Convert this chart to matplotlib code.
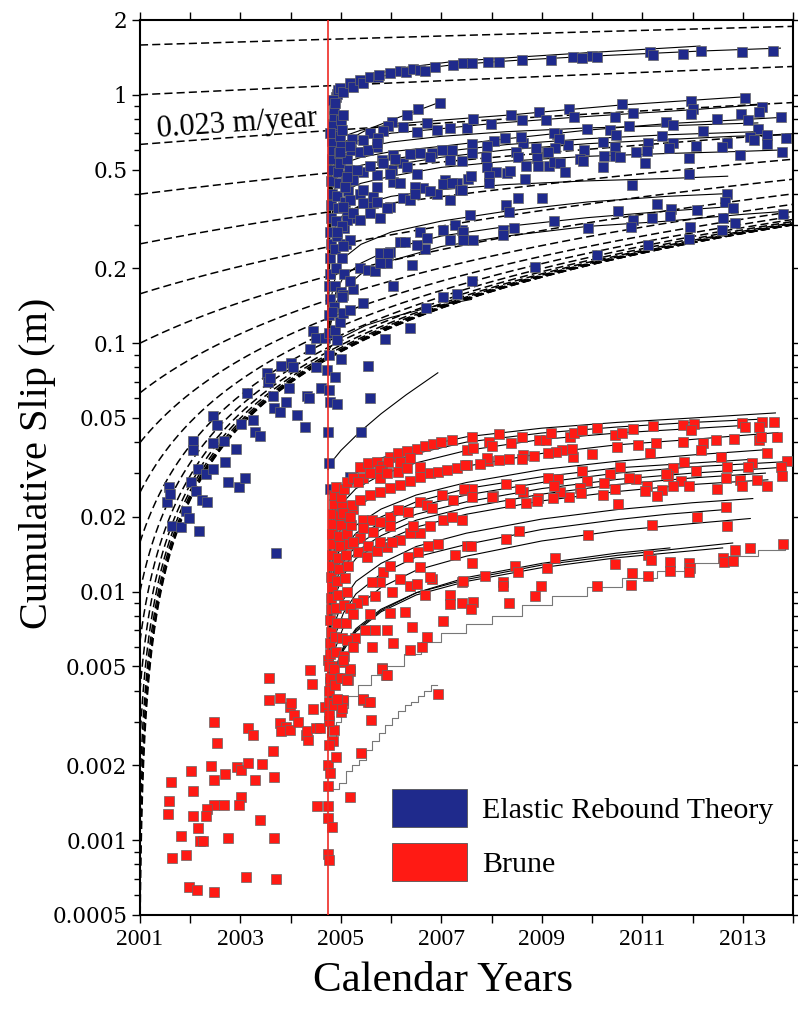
import numpy as np
import matplotlib
matplotlib.use('Agg')
import matplotlib.pyplot as plt
from matplotlib.patches import Patch
from matplotlib.ticker import LogLocator

# --- data (year, cumulative slip in m) ---
quake_year = 2004.74
slip_rate = 0.023
rate_offsets = [1.585, 1.0, 0.631, 0.398, 0.251, 0.158, 0.1, 0.0631, 0.0398, 0.0251,
                0.0158, 0.01, 0.00631, 0.00398, 0.00251, 0.00158, 0.001, 0.00063, 0.0004]

blue_pre = [
    [2001.54, 0.0230], [2001.58, 0.0264], [2001.60, 0.0248], [2001.64, 0.0184], [2001.82, 0.0182],
    [2001.92, 0.0211], [2001.98, 0.0198], [2002.02, 0.0277], [2002.06, 0.0404], [2002.06, 0.0372],
    [2002.11, 0.0254], [2002.15, 0.0312], [2002.17, 0.0176], [2002.23, 0.0234], [2002.31, 0.0298],
    [2002.33, 0.0230], [2002.45, 0.0510], [2002.45, 0.0397], [2002.45, 0.0312], [2002.53, 0.0469],
    [2002.67, 0.0404], [2002.69, 0.0333], [2002.75, 0.0277], [2002.91, 0.0375], [2002.97, 0.0264],
    [2003.01, 0.0473], [2003.09, 0.0287], [2003.13, 0.0631], [2003.25, 0.0491], [2003.29, 0.0440],
    [2003.39, 0.0424], [2003.53, 0.0759], [2003.55, 0.0699], [2003.59, 0.0725], [2003.65, 0.0614],
    [2003.67, 0.0549], [2003.71, 0.0143], [2003.79, 0.0529], [2003.81, 0.0811], [2003.91, 0.0581],
    [2003.97, 0.0661], [2004.01, 0.0833], [2004.05, 0.0802], [2004.13, 0.0515], [2004.28, 0.0460],
    [2004.32, 0.0614], [2004.36, 0.0603], [2004.38, 0.0948], [2004.44, 0.112], [2004.50, 0.105],
    [2004.50, 0.0802], [2004.60, 0.0661], [2004.68, 0.105], [2004.72, 0.0781],
]

blue_post = [
    # dense columns right after the quake
    [2004.76, 0.09], [2004.77, 0.11], [2004.76, 0.13], [2004.78, 0.15], [2004.77, 0.17], [2004.79, 0.19],
    [2004.78, 0.22], [2004.80, 0.25], [2004.79, 0.28], [2004.81, 0.32], [2004.80, 0.36], [2004.82, 0.40],
    [2004.81, 0.45], [2004.83, 0.50], [2004.82, 0.55], [2004.84, 0.60], [2004.83, 0.65], [2004.85, 0.70],
    [2004.84, 0.76], [2004.86, 0.82], [2004.86, 0.88], [2004.90, 0.98], [2004.93, 1.01], [2004.95, 1.04],
    [2004.86, 0.14], [2004.88, 0.17], [2004.90, 0.20], [2004.88, 0.24], [2004.92, 0.27], [2004.90, 0.31],
    [2004.94, 0.35], [2004.92, 0.39], [2004.96, 0.44], [2004.94, 0.49], [2004.98, 0.53], [2004.96, 0.58],
    [2005.00, 0.62], [2004.98, 0.68], [2005.02, 0.72], [2005.00, 0.79], [2005.05, 0.83],
    [2005.00, 0.16], [2005.06, 0.19], [2005.02, 0.22], [2005.10, 0.25], [2005.06, 0.29], [2005.12, 0.33],
    [2005.08, 0.37], [2005.14, 0.41], [2005.10, 0.45], [2005.16, 0.50], [2005.12, 0.55], [2005.20, 0.60],
    [2004.76, 0.065], [2004.78, 0.058], [2004.92, 0.057], [2004.88, 0.073], [2005.00, 0.0867],
    [2004.76, 0.033], [2004.78, 0.026], [2004.74, 0.044], [2005.18, 0.029], [2005.40, 0.044],
    [2005.58, 0.0603], [2005.54, 0.081], [2006.38, 0.115], [2005.88, 0.104],
    [2004.82, 0.134], [2004.88, 0.113], [2004.92, 0.103], [2004.98, 0.122], [2005.04, 0.132],
    [2005.18, 0.136], [2005.04, 0.156], [2005.24, 0.165], [2005.18, 0.178], [2005.44, 0.145],
    [2006.04, 0.17], [2006.69, 0.139], [2007.03, 0.153], [2007.31, 0.158], [2005.02, 0.153],
    [2005.38, 0.20], [2005.54, 0.197], [2005.68, 0.195], [2005.92, 0.21], [2006.42, 0.207],
    [2005.78, 0.21], [2005.98, 0.233], [2006.18, 0.256], [2006.28, 0.256], [2005.78, 0.23],
    [2005.94, 0.23], [2006.57, 0.28], [2006.67, 0.24], [2007.03, 0.286], [2007.17, 0.26],
    [2007.41, 0.286], [2007.27, 0.30], [2006.71, 0.266], [2006.51, 0.249],
    [2005.78, 0.32], [2005.58, 0.335], [2005.24, 0.32], [2005.12, 0.313], [2005.02, 0.296],
    [2004.92, 0.28], [2005.18, 0.26], [2005.04, 0.246], [2006.24, 0.385], [2005.98, 0.353],
    [2005.64, 0.367], [2006.38, 0.377], [2006.63, 0.42], [2006.91, 0.40], [2007.07, 0.454],
    [2007.31, 0.44], [2005.38, 0.40], [2005.18, 0.377], [2005.04, 0.353], [2005.24, 0.454],
    [2005.08, 0.425], [2005.44, 0.487], [2005.72, 0.476], [2006.02, 0.50], [2006.24, 0.53],
    [2005.82, 0.547], [2006.04, 0.573], [2005.72, 0.617],
    [2006.08, 0.55], [2005.84, 0.53], [2005.58, 0.515], [2005.32, 0.50], [2005.12, 0.465],
    [2006.38, 0.578], [2006.57, 0.58], [2006.81, 0.58], [2006.77, 0.56], [2007.01, 0.60],
    [2007.21, 0.60], [2007.17, 0.547], [2006.32, 0.51], [2006.51, 0.48], [2006.04, 0.445],
    [2006.18, 0.44], [2006.47, 0.425], [2005.98, 0.48], [2005.72, 0.425], [2005.44, 0.414],
    [2005.64, 0.387], [2005.92, 0.35], [2005.72, 0.37], [2005.44, 0.367], [2005.24, 0.335],
    [2005.38, 0.313], [2006.47, 0.40], [2006.77, 0.41], [2007.03, 0.438], [2007.21, 0.44],
    [2007.37, 0.414], [2007.17, 0.377],
    # top band
    [2004.78, 0.70], [2004.84, 0.953], [2004.88, 0.93], [2004.98, 1.065], [2005.04, 1.026],
    [2005.18, 1.117], [2005.24, 1.075], [2005.38, 1.147], [2005.44, 1.117], [2005.58, 1.18],
    [2005.74, 1.18], [2005.76, 1.20], [2005.98, 1.22], [2006.18, 1.25], [2006.30, 1.23],
    [2006.44, 1.27], [2006.57, 1.26], [2006.67, 1.25], [2006.87, 1.29], [2007.23, 1.32],
    [2007.43, 1.34], [2007.61, 1.34], [2007.93, 1.355], [2008.15, 1.355], [2008.61, 1.38],
    [2009.18, 1.38], [2009.62, 1.42], [2009.80, 1.405], [2010.00, 1.43], [2010.10, 1.42],
    [2011.15, 1.485], [2011.21, 1.446], [2011.81, 1.465], [2012.17, 1.50], [2012.99, 1.49],
    [2013.60, 1.50],
    # 0.6 - 1 m band
    [2006.97, 0.93], [2006.53, 0.875], [2006.32, 0.83], [2006.02, 0.78], [2005.94, 0.745],
    [2006.24, 0.74], [2006.51, 0.705], [2006.71, 0.77], [2006.91, 0.72], [2007.17, 0.735],
    [2007.51, 0.735], [2005.58, 0.70], [2005.84, 0.715], [2005.74, 0.67], [2005.44, 0.66],
    [2005.22, 0.665], [2005.18, 0.62], [2004.98, 0.59], [2005.38, 0.59], [2005.54, 0.60],
    [2005.72, 0.64], [2013.05, 0.97], [2011.97, 0.944], [2010.60, 0.918], [2009.54, 0.876],
    [2008.94, 0.853], [2008.39, 0.83], [2007.63, 0.80], [2012.01, 0.876], [2013.38, 0.89],
    [2013.32, 0.853], [2012.97, 0.84], [2011.97, 0.84], [2010.82, 0.845], [2010.46, 0.815],
    [2009.64, 0.815], [2009.08, 0.79], [2008.61, 0.79], [2007.99, 0.764], [2013.76, 0.815],
    [2013.10, 0.79], [2012.49, 0.80], [2011.47, 0.777], [2011.61, 0.756], [2010.74, 0.75],
    [2009.90, 0.73], [2010.36, 0.722], [2010.48, 0.69], [2013.30, 0.73], [2012.21, 0.715],
    [2013.48, 0.69], [2013.86, 0.67], [2013.14, 0.675], [2013.22, 0.658], [2013.48, 0.633],
    [2012.69, 0.64], [2012.59, 0.615], [2012.07, 0.62], [2011.61, 0.64], [2011.53, 0.61],
    [2011.11, 0.64], [2011.39, 0.68], [2011.09, 0.595], [2010.88, 0.59], [2010.46, 0.615],
    [2010.22, 0.645], [2009.84, 0.60], [2009.52, 0.628], [2009.30, 0.695], [2009.24, 0.70],
    [2009.34, 0.665], [2009.26, 0.61], [2009.10, 0.59], [2008.88, 0.61], [2008.63, 0.64],
    [2008.59, 0.675], [2008.27, 0.67], [2008.05, 0.65], [2007.91, 0.62], [2007.61, 0.635],
    [2007.61, 0.58], [2007.89, 0.56], [2007.91, 0.51], [2008.49, 0.59], [2008.53, 0.56],
    [2008.90, 0.555], [2009.12, 0.59], [2009.76, 0.55], [2009.82, 0.54], [2010.24, 0.565],
    [2010.46, 0.565], [2010.56, 0.56], [2011.93, 0.556], [2012.95, 0.573], [2013.78, 0.587],
    [2007.41, 0.54], [2008.09, 0.49], [2008.31, 0.485], [2008.37, 0.495], [2008.69, 0.515],
    [2008.92, 0.515], [2009.14, 0.515], [2009.24, 0.535], [2009.36, 0.53], [2009.46, 0.49],
    [2010.22, 0.51], [2011.05, 0.53], [2011.93, 0.48], [2007.53, 0.457], [2007.59, 0.47],
    [2007.95, 0.47], [2007.95, 0.44], [2008.67, 0.46], [2007.41, 0.414], [2010.80, 0.434],
    # 0.2 - 0.4 m band
    [2008.53, 0.384], [2009.00, 0.384], [2008.29, 0.36], [2008.35, 0.337], [2012.69, 0.40],
    [2012.65, 0.37], [2012.81, 0.35], [2011.29, 0.364], [2011.57, 0.347], [2011.55, 0.325],
    [2010.52, 0.34], [2010.82, 0.313], [2011.19, 0.319], [2012.09, 0.344], [2012.61, 0.319],
    [2012.85, 0.305], [2013.80, 0.331], [2009.24, 0.31], [2009.92, 0.29], [2010.78, 0.293],
    [2011.95, 0.293], [2011.93, 0.263], [2012.59, 0.286], [2008.45, 0.29], [2008.23, 0.286],
    [2008.23, 0.273], [2007.57, 0.328], [2007.43, 0.28], [2007.43, 0.26], [2007.63, 0.26],
    [2011.11, 0.249], [2010.10, 0.227], [2007.61, 0.178], [2008.86, 0.202],
]

red_pre = [
    [2003.57, 0.00451], [2004.38, 0.00483], [2004.42, 0.00426], [2003.57, 0.00367], [2003.79, 0.00374],
    [2003.99, 0.00343], [2004.01, 0.00357], [2004.07, 0.00320], [2004.44, 0.00338], [2002.47, 0.00299],
    [2003.15, 0.00283], [2003.25, 0.00266], [2003.79, 0.00296], [2003.91, 0.00286], [2003.81, 0.00276],
    [2003.99, 0.00278], [2004.15, 0.00299], [2004.31, 0.00266], [2004.35, 0.00254], [2004.33, 0.00276],
    [2004.50, 0.00283], [2004.58, 0.00283], [2002.53, 0.00245], [2003.65, 0.00229], [2002.41, 0.00199],
    [2002.93, 0.00197], [2003.01, 0.00192], [2003.15, 0.00205], [2003.43, 0.00203], [2002.69, 0.00185],
    [2002.47, 0.00175], [2003.29, 0.00174], [2003.67, 0.00179], [2002.02, 0.00189], [2001.62, 0.00171],
    [2001.58, 0.00144], [2001.56, 0.00128], [2002.06, 0.00158], [2003.01, 0.00149], [2002.97, 0.00138],
    [2002.67, 0.00138], [2002.47, 0.00138], [2002.33, 0.00134], [2002.31, 0.00125], [2002.06, 0.00125],
    [2002.15, 0.00112], [2003.39, 0.00121], [2001.82, 0.00104], [2002.19, 0.00099], [2002.25, 0.00099],
    [2002.75, 0.00102], [2003.67, 0.00102], [2001.64, 0.00085], [2001.92, 0.00087], [2003.11, 0.00071],
    [2003.71, 0.00070], [2001.98, 0.00065], [2002.13, 0.00063], [2002.47, 0.00062], [2004.52, 0.00137],
    [2004.68, 0.00343],
]

red_post = [
    # near the quake line
    [2005.18, 0.00149], [2004.74, 0.00137], [2004.74, 0.00123], [2004.82, 0.00113], [2004.74, 0.00088],
    [2004.76, 0.00083], [2004.74, 0.00165], [2004.74, 0.00201], [2004.78, 0.00187], [2004.90, 0.00217],
    [2004.84, 0.00250], [2004.76, 0.00242], [2004.86, 0.00278], [2005.00, 0.00328], [2004.94, 0.00367],
    [2005.04, 0.00367], [2004.76, 0.00301], [2005.40, 0.00225], [2005.60, 0.00305], [2005.44, 0.00367],
    [2005.54, 0.00360], [2005.82, 0.00493], [2005.90, 0.00463], [2005.14, 0.00442], [2005.18, 0.00478],
    [2004.92, 0.00451], [2004.78, 0.00435], [2004.74, 0.00532], [2004.82, 0.00500], [2005.04, 0.00523],
    [2006.93, 0.00389],
    [2004.76, 0.0032], [2004.77, 0.0036], [2004.76, 0.0040], [2004.78, 0.0045], [2004.77, 0.0050],
    [2004.79, 0.0056], [2004.78, 0.0062], [2004.80, 0.0069], [2004.79, 0.0077], [2004.81, 0.0085],
    [2004.80, 0.0094], [2004.82, 0.0104], [2004.81, 0.0115], [2004.83, 0.0127], [2004.82, 0.0140],
    [2004.84, 0.0155], [2004.83, 0.0170], [2004.85, 0.0187], [2004.84, 0.0205], [2004.86, 0.0225],
    [2004.87, 0.0245], [2004.90, 0.0265],
    [2004.86, 0.0035], [2004.88, 0.0042], [2004.86, 0.0049], [2004.90, 0.0057], [2004.88, 0.0066],
    [2004.92, 0.0075], [2004.90, 0.0086], [2004.94, 0.0097], [2004.92, 0.0110], [2004.96, 0.0123],
    [2004.94, 0.0137], [2004.98, 0.0152], [2004.96, 0.0168], [2005.00, 0.0185], [2004.98, 0.0203],
    [2005.02, 0.0222], [2005.00, 0.0240], [2005.06, 0.0260],
    [2005.00, 0.0045], [2005.06, 0.0055], [2005.02, 0.0065], [2005.10, 0.0075], [2005.06, 0.0088],
    [2005.12, 0.0100], [2005.08, 0.0113], [2005.14, 0.0127], [2005.10, 0.0140], [2005.16, 0.0155],
    [2005.12, 0.0170], [2005.20, 0.0185], [2005.16, 0.0200], [2005.24, 0.0215],
    # upper band
    [2005.12, 0.0276], [2005.24, 0.0288], [2005.38, 0.0317], [2005.54, 0.0330], [2005.72, 0.0334],
    [2005.82, 0.0320], [2005.98, 0.0349], [2006.14, 0.0362], [2006.32, 0.0368], [2006.51, 0.0375],
    [2006.67, 0.0386], [2006.83, 0.0393], [2006.99, 0.0401], [2007.21, 0.0408], [2006.18, 0.0334],
    [2006.38, 0.0346], [2005.94, 0.0334], [2005.78, 0.0309], [2005.44, 0.0288], [2005.34, 0.0276],
    [2005.58, 0.0300],
    [2005.22, 0.0224], [2005.38, 0.0234], [2005.58, 0.0245], [2005.78, 0.0252], [2005.98, 0.0262],
    [2006.18, 0.0269], [2006.38, 0.0280], [2006.57, 0.0290], [2006.77, 0.0300], [2006.93, 0.0303],
    [2007.11, 0.0309], [2007.31, 0.0315], [2007.51, 0.0324], [2005.78, 0.0288], [2005.92, 0.0300],
    [2006.14, 0.0303], [2006.32, 0.0315], [2006.57, 0.0318], [2005.04, 0.0207], [2005.18, 0.0200],
    # middle band
    [2005.44, 0.0195], [2005.62, 0.0195], [2005.78, 0.0191], [2005.98, 0.0200], [2006.14, 0.0214],
    [2006.34, 0.0209], [2006.57, 0.0230], [2006.71, 0.0224], [2006.81, 0.0218], [2007.01, 0.0245],
    [2007.23, 0.0234], [2007.47, 0.0257], [2005.44, 0.0181], [2005.64, 0.0174], [2005.98, 0.0183],
    [2006.18, 0.0162], [2006.38, 0.0172], [2006.57, 0.0172], [2006.44, 0.0183], [2006.77, 0.0183],
    [2007.03, 0.0195], [2007.21, 0.0200], [2007.41, 0.0195], [2005.38, 0.0165], [2005.24, 0.0158],
    [2005.54, 0.0152], [2005.72, 0.0146], [2005.92, 0.0151], [2006.02, 0.0158], [2005.78, 0.0158],
    [2005.34, 0.0144], [2005.52, 0.0138],
    # lower bands
    [2005.84, 0.0120], [2005.98, 0.0127], [2006.18, 0.0112], [2006.34, 0.0138], [2006.53, 0.0144],
    [2006.73, 0.0152], [2006.93, 0.0155], [2007.27, 0.0141], [2007.51, 0.0152], [2006.57, 0.0126],
    [2006.38, 0.0105], [2006.51, 0.0107], [2006.02, 0.0100], [2005.78, 0.0109], [2005.62, 0.0109],
    [2005.68, 0.0096], [2005.44, 0.0093], [2005.32, 0.0090], [2005.18, 0.0086], [2005.24, 0.0081],
    [2005.58, 0.0081], [2006.81, 0.0112], [2006.77, 0.0115], [2007.17, 0.0097], [2007.41, 0.0109],
    [2006.67, 0.0097], [2005.98, 0.0082], [2006.28, 0.0083], [2005.92, 0.0070], [2005.68, 0.0070],
    [2005.48, 0.0070], [2005.28, 0.0065], [2005.12, 0.0064], [2005.62, 0.0060], [2006.04, 0.0062],
    [2006.42, 0.0072], [2006.71, 0.0066], [2007.03, 0.0076], [2007.17, 0.0089], [2007.41, 0.0090],
    [2006.61, 0.0060], [2006.38, 0.0058], [2005.24, 0.0060], [2005.82, 0.0049], [2005.92, 0.0046],
    [2005.18, 0.0049], [2005.04, 0.0053], [2005.12, 0.0044], [2005.44, 0.0037], [2005.58, 0.0036],
    [2005.02, 0.0034], [2004.92, 0.0037],
    # after 2007.5
    [2007.61, 0.0418], [2007.51, 0.0372], [2007.63, 0.0379], [2007.95, 0.0400], [2008.01, 0.0386],
    [2008.15, 0.0432], [2008.39, 0.0396], [2008.61, 0.0418], [2008.94, 0.0408], [2009.08, 0.0408],
    [2009.18, 0.0436], [2009.56, 0.0420], [2009.64, 0.0436], [2009.80, 0.0448], [2010.10, 0.0457],
    [2010.46, 0.0428], [2010.60, 0.0436], [2010.82, 0.0453], [2011.21, 0.0466], [2011.81, 0.0470],
    [2012.03, 0.0475], [2011.97, 0.0448], [2012.99, 0.0479], [2013.05, 0.0462], [2013.38, 0.0484],
    [2013.62, 0.0480], [2013.32, 0.0462], [2013.68, 0.0420], [2013.32, 0.0408], [2013.36, 0.0420],
    [2012.83, 0.0412], [2012.47, 0.0408], [2012.21, 0.0396], [2012.17, 0.0372], [2011.81, 0.0400],
    [2011.27, 0.0396], [2011.15, 0.0363], [2010.92, 0.0390], [2010.50, 0.0383], [2010.00, 0.0359],
    [2009.62, 0.0349], [2009.60, 0.0375], [2009.40, 0.0372], [2009.28, 0.0365], [2009.12, 0.0362],
    [2008.84, 0.0352], [2008.63, 0.0356], [2008.61, 0.0343], [2008.35, 0.0343], [2008.15, 0.0340],
    [2007.93, 0.0336], [2007.91, 0.0346], [2007.77, 0.0327], [2007.47, 0.0324], [2013.48, 0.0362],
    [2013.88, 0.0336], [2012.57, 0.0349], [2011.83, 0.0333], [2013.18, 0.0330], [2013.10, 0.0317],
    [2013.76, 0.0317], [2013.78, 0.0292], [2012.69, 0.0317], [2012.07, 0.0305], [2011.61, 0.0314],
    [2011.51, 0.0292], [2011.47, 0.0298], [2011.77, 0.0280], [2012.67, 0.0287], [2012.95, 0.0282],
    [2013.28, 0.0282], [2012.99, 0.0267], [2013.48, 0.0267], [2012.49, 0.0260], [2011.93, 0.0267],
    [2011.61, 0.0267], [2011.39, 0.0257], [2011.29, 0.0242], [2011.09, 0.0267], [2011.05, 0.0255],
    [2010.88, 0.0284], [2010.74, 0.0287], [2010.56, 0.0318], [2010.36, 0.0298], [2010.24, 0.0274],
    [2010.46, 0.0260], [2010.22, 0.0245], [2009.80, 0.0305], [2009.90, 0.0278], [2009.76, 0.0262],
    [2009.78, 0.0250], [2009.54, 0.0240], [2009.36, 0.0252], [2009.32, 0.0285], [2009.12, 0.0287],
    [2009.24, 0.0267], [2009.22, 0.0238], [2008.92, 0.0238], [2008.90, 0.0232], [2008.68, 0.0228],
    [2008.63, 0.0252], [2008.57, 0.0260], [2008.29, 0.0272], [2008.03, 0.0243], [2008.01, 0.0240],
    [2007.61, 0.0260], [2007.45, 0.0260], [2007.61, 0.0240], [2008.37, 0.0228], [2010.52, 0.0226],
    [2012.67, 0.0220],
    [2012.09, 0.0200], [2011.19, 0.0185], [2012.69, 0.0183], [2009.92, 0.0169], [2008.55, 0.0175],
    [2008.29, 0.0163], [2007.59, 0.0152], [2007.61, 0.0130], [2008.47, 0.0127], [2008.53, 0.0120],
    [2009.26, 0.0136], [2009.10, 0.0125], [2007.87, 0.0116], [2008.23, 0.0109], [2008.23, 0.0105],
    [2007.43, 0.0110], [2008.98, 0.0105], [2007.63, 0.0091], [2007.59, 0.0085], [2008.35, 0.0090],
    [2008.86, 0.0096], [2010.10, 0.0105], [2010.78, 0.0106], [2011.11, 0.0116], [2011.11, 0.0141],
    [2011.17, 0.0134], [2010.46, 0.0129], [2010.80, 0.0119], [2011.55, 0.0132], [2011.55, 0.0121],
    [2011.93, 0.0131], [2011.95, 0.0125], [2011.93, 0.0120], [2012.61, 0.0137], [2012.63, 0.0132],
    [2012.81, 0.0133], [2012.85, 0.0147], [2013.14, 0.0150], [2013.80, 0.0155],
]

blue_fits = [
    [[2004.745, 0.10], [2004.75, 0.30], [2004.76, 0.50], [2004.78, 0.70], [2004.81, 0.85], [2004.86, 0.95],
     [2004.93, 1.00], [2005.04, 1.04], [2005.44, 1.13], [2006.18, 1.24], [2007.23, 1.32], [2008.6, 1.38],
     [2010.0, 1.43], [2012.2, 1.50], [2013.75, 1.54]],
    [[2004.745, 0.10], [2004.75, 0.32], [2004.76, 0.53], [2004.78, 0.74], [2004.81, 0.89], [2004.86, 0.99],
     [2004.93, 1.04], [2005.04, 1.08], [2005.44, 1.17], [2006.18, 1.28], [2007.23, 1.36], [2008.6, 1.42],
     [2010.0, 1.48], [2012.15, 1.57]],
    [[2004.745, 0.09], [2004.76, 0.20], [2004.80, 0.40], [2004.90, 0.55], [2005.10, 0.65], [2005.50, 0.72],
     [2006.00, 0.79], [2006.50, 0.86], [2006.95, 0.93]],
    [[2004.745, 0.09], [2004.75, 0.20], [2004.76, 0.35], [2004.78, 0.48], [2004.82, 0.58], [2004.90, 0.64],
     [2005.05, 0.68], [2005.40, 0.72], [2006.00, 0.76], [2007.00, 0.79], [2008.40, 0.83], [2009.50, 0.87],
     [2010.60, 0.91], [2012.00, 0.95], [2013.00, 0.98]],
    [[2004.745, 0.09], [2004.75, 0.17], [2004.76, 0.30], [2004.78, 0.42], [2004.82, 0.52], [2004.90, 0.58],
     [2005.05, 0.62], [2005.40, 0.66], [2006.00, 0.70], [2007.00, 0.73], [2008.00, 0.765], [2009.60, 0.81],
     [2010.80, 0.84], [2012.00, 0.87], [2013.30, 0.91]],
    [[2004.745, 0.09], [2004.75, 0.16], [2004.76, 0.28], [2004.78, 0.40], [2004.82, 0.49], [2004.90, 0.545],
     [2005.05, 0.575], [2005.40, 0.61], [2006.00, 0.645], [2007.00, 0.68], [2008.30, 0.71], [2009.90, 0.735],
     [2011.50, 0.75], [2013.30, 0.77]],
    [[2004.745, 0.09], [2004.75, 0.15], [2004.76, 0.26], [2004.78, 0.37], [2004.82, 0.45], [2004.90, 0.50],
     [2005.05, 0.53], [2005.40, 0.56], [2006.00, 0.59], [2007.00, 0.62], [2008.30, 0.665], [2009.90, 0.72],
     [2011.50, 0.765], [2012.80, 0.79], [2013.75, 0.81]],
    [[2004.745, 0.09], [2004.75, 0.14], [2004.76, 0.23], [2004.78, 0.33], [2004.82, 0.41], [2004.90, 0.46],
     [2005.05, 0.49], [2005.40, 0.52], [2006.00, 0.55], [2007.00, 0.59], [2008.30, 0.63], [2009.90, 0.665],
     [2011.50, 0.69], [2013.30, 0.71]],
    [[2004.745, 0.09], [2004.75, 0.14], [2004.76, 0.22], [2004.78, 0.31], [2004.82, 0.38], [2004.90, 0.43],
     [2005.05, 0.46], [2005.40, 0.49], [2006.00, 0.52], [2007.00, 0.56], [2008.30, 0.60], [2009.90, 0.635],
     [2011.50, 0.66], [2012.80, 0.68], [2013.85, 0.69]],
    [[2004.745, 0.09], [2004.75, 0.13], [2004.76, 0.19], [2004.78, 0.27], [2004.82, 0.33], [2004.90, 0.38],
     [2005.05, 0.41], [2005.40, 0.44], [2006.00, 0.47], [2007.00, 0.51], [2008.30, 0.54], [2009.90, 0.565],
     [2011.50, 0.58], [2012.80, 0.59], [2013.85, 0.60]],
    [[2004.745, 0.09], [2004.75, 0.12], [2004.76, 0.16], [2004.78, 0.21], [2004.82, 0.26], [2004.90, 0.30],
     [2005.05, 0.33], [2005.40, 0.36], [2006.00, 0.39], [2007.00, 0.415], [2008.30, 0.435], [2009.90, 0.45],
     [2011.50, 0.46], [2012.70, 0.47]],
    [[2004.745, 0.09], [2004.76, 0.11], [2004.80, 0.15], [2004.90, 0.19], [2005.05, 0.22], [2005.40, 0.25],
     [2006.00, 0.28], [2007.00, 0.31], [2008.30, 0.34], [2009.90, 0.37], [2011.50, 0.39], [2012.70, 0.40]],
    [[2004.745, 0.09], [2004.76, 0.105], [2004.80, 0.13], [2004.90, 0.16], [2005.05, 0.185], [2005.40, 0.21],
     [2006.00, 0.24], [2007.00, 0.27], [2008.30, 0.295], [2009.90, 0.32], [2011.50, 0.34], [2012.80, 0.355]],
    [[2004.745, 0.09], [2004.76, 0.10], [2004.80, 0.12], [2004.90, 0.145], [2005.05, 0.165], [2005.40, 0.19],
     [2006.00, 0.215], [2007.00, 0.245], [2008.30, 0.27], [2009.90, 0.295], [2011.50, 0.31], [2013.00, 0.33],
     [2013.90, 0.34]],
    [[2004.745, 0.092], [2004.80, 0.097], [2005.00, 0.105], [2005.50, 0.118], [2006.00, 0.127],
     [2006.80, 0.14], [2007.60, 0.15]],
    [[2004.745, 0.031], [2004.80, 0.033], [2005.00, 0.037], [2005.38, 0.044], [2005.80, 0.052],
     [2006.30, 0.062], [2006.93, 0.076]],
]

red_fits = [
    [[2004.745, 0.003], [2004.75, 0.006], [2004.76, 0.011], [2004.78, 0.017], [2004.82, 0.021], [2004.90, 0.024],
     [2005.05, 0.027], [2005.30, 0.030], [2005.80, 0.0345], [2006.50, 0.038], [2007.50, 0.042], [2009.00, 0.0455],
     [2010.50, 0.048], [2012.00, 0.050], [2013.65, 0.0524]],
    [[2004.745, 0.003], [2004.75, 0.0055], [2004.76, 0.010], [2004.78, 0.0145], [2004.82, 0.018], [2004.90, 0.022],
     [2005.05, 0.025], [2005.30, 0.028], [2005.80, 0.032], [2006.50, 0.036], [2007.50, 0.040], [2009.00, 0.0435],
     [2010.50, 0.046], [2012.00, 0.048], [2013.40, 0.0495]],
    [[2004.745, 0.003], [2004.75, 0.0052], [2004.76, 0.009], [2004.78, 0.013], [2004.82, 0.0165], [2004.90, 0.020],
     [2005.05, 0.023], [2005.30, 0.026], [2005.80, 0.0295], [2006.50, 0.033], [2007.50, 0.037], [2009.00, 0.041],
     [2010.50, 0.0435], [2012.90, 0.0465]],
    [[2004.745, 0.003], [2004.75, 0.0045], [2004.76, 0.007], [2004.78, 0.010], [2004.82, 0.013], [2004.90, 0.016],
     [2005.05, 0.019], [2005.30, 0.022], [2005.80, 0.025], [2006.50, 0.028], [2007.50, 0.032], [2009.00, 0.036],
     [2010.50, 0.039], [2012.00, 0.041], [2013.70, 0.0437]],
    [[2004.745, 0.003], [2004.75, 0.004], [2004.76, 0.006], [2004.78, 0.0085], [2004.82, 0.011], [2004.90, 0.0135],
     [2005.05, 0.016], [2005.30, 0.0185], [2005.80, 0.0215], [2006.50, 0.0245], [2007.50, 0.0275], [2009.00, 0.031],
     [2010.50, 0.0335], [2012.00, 0.0355], [2013.40, 0.0372]],
    [[2004.745, 0.003], [2004.75, 0.0039], [2004.76, 0.0057], [2004.78, 0.008], [2004.82, 0.0102], [2004.90, 0.0125],
     [2005.05, 0.0149], [2005.30, 0.0172], [2005.80, 0.020], [2006.50, 0.023], [2007.50, 0.026], [2009.00, 0.029],
     [2010.50, 0.0315], [2013.10, 0.034]],
    [[2004.745, 0.003], [2004.75, 0.0038], [2004.76, 0.0055], [2004.78, 0.0077], [2004.82, 0.0098], [2004.90, 0.012],
     [2005.05, 0.0143], [2005.30, 0.0165], [2005.80, 0.019], [2006.50, 0.022], [2007.50, 0.0245], [2009.00, 0.0275],
     [2010.50, 0.030], [2012.00, 0.0318], [2013.80, 0.0333]],
    [[2004.745, 0.003], [2004.75, 0.0036], [2004.76, 0.005], [2004.78, 0.007], [2004.82, 0.009], [2004.90, 0.011],
     [2005.05, 0.0132], [2005.30, 0.0153], [2005.80, 0.0178], [2006.50, 0.0205], [2007.50, 0.023], [2009.00, 0.026],
     [2010.50, 0.0283], [2012.00, 0.030], [2013.75, 0.0316]],
    [[2004.745, 0.003], [2004.75, 0.0035], [2004.76, 0.0048], [2004.78, 0.0066], [2004.82, 0.0085], [2004.90, 0.0104],
     [2005.05, 0.0125], [2005.30, 0.0145], [2005.80, 0.0168], [2006.50, 0.0194], [2007.50, 0.0218], [2009.00, 0.0247],
     [2010.50, 0.027], [2012.00, 0.0287], [2013.45, 0.030]],
    [[2004.745, 0.003], [2004.75, 0.0034], [2004.76, 0.0045], [2004.78, 0.0062], [2004.82, 0.008], [2004.90, 0.0098],
     [2005.05, 0.0117], [2005.30, 0.0136], [2005.80, 0.0158], [2006.50, 0.0182], [2007.50, 0.0205], [2009.00, 0.0232],
     [2010.50, 0.0253], [2012.00, 0.027], [2013.50, 0.0282]],
    [[2004.745, 0.0029], [2004.75, 0.0033], [2004.76, 0.004], [2004.78, 0.0051], [2004.82, 0.0063], [2004.90, 0.0077],
     [2005.05, 0.0093], [2005.30, 0.011], [2005.80, 0.013], [2006.50, 0.0152], [2007.50, 0.0172], [2009.00, 0.0196],
     [2010.50, 0.0214], [2012.00, 0.0228], [2013.20, 0.0237]],
    [[2004.745, 0.0028], [2004.75, 0.0031], [2004.76, 0.0037], [2004.78, 0.0046], [2004.82, 0.0056], [2004.90, 0.0068],
     [2005.05, 0.0082], [2005.30, 0.0098], [2005.80, 0.0118], [2006.50, 0.0138], [2007.50, 0.0155], [2009.00, 0.0178],
     [2010.50, 0.0195], [2011.50, 0.0205], [2012.65, 0.0214]],
    [[2004.745, 0.0028], [2004.75, 0.003], [2004.76, 0.0035], [2004.78, 0.0042], [2004.82, 0.005], [2004.90, 0.006],
     [2005.05, 0.0072], [2005.30, 0.0086], [2005.80, 0.0104], [2006.50, 0.0122], [2007.50, 0.0139], [2009.00, 0.016],
     [2010.50, 0.0176], [2012.00, 0.0188], [2013.15, 0.0197]],
    [[2004.745, 0.0026], [2004.75, 0.0028], [2004.76, 0.0031], [2004.78, 0.0036], [2004.82, 0.0042], [2004.90, 0.005],
     [2005.05, 0.006], [2005.30, 0.0071], [2005.80, 0.0085], [2006.50, 0.0099], [2007.50, 0.0112], [2009.00, 0.0128],
     [2010.50, 0.014], [2012.00, 0.0151], [2012.80, 0.0157]],
    [[2004.745, 0.0026], [2004.76, 0.003], [2004.78, 0.0035], [2004.82, 0.0041], [2004.90, 0.0049], [2005.05, 0.0059],
     [2005.30, 0.007], [2005.80, 0.0084], [2006.50, 0.0099], [2007.50, 0.0114], [2009.00, 0.013], [2010.50, 0.0143],
     [2011.55, 0.015]],
    [[2004.745, 0.0026], [2004.76, 0.003], [2004.78, 0.0034], [2004.82, 0.004], [2004.90, 0.0048], [2005.05, 0.0058],
     [2005.30, 0.0069], [2005.80, 0.0083], [2006.50, 0.0097], [2007.50, 0.011], [2009.00, 0.0125], [2010.50, 0.0137],
     [2012.60, 0.015]],
]

step_long_years = [2004.80, 2004.90, 2005.00, 2005.15, 2005.35, 2005.60, 2005.90, 2006.25, 2006.60, 2007.00,
                   2007.50, 2008.00, 2008.60, 2009.20, 2009.90, 2010.60, 2011.30, 2012.00, 2012.70, 2013.30, 2013.85]
step_long_slip = [0.0025, 0.0030, 0.0034, 0.0038, 0.0042, 0.0046, 0.0050, 0.0056, 0.0063, 0.0068,
                  0.0074, 0.0080, 0.0088, 0.0096, 0.0104, 0.0113, 0.0121, 0.0130, 0.0139, 0.0147, 0.0155]
step_short_years = [2004.84, 2004.97, 2005.10, 2005.23, 2005.36, 2005.49, 2005.62, 2005.75, 2005.88, 2006.01,
                    2006.14, 2006.27, 2006.40, 2006.53, 2006.66, 2006.79, 2006.92]
step_short_slip = [0.0016, 0.0017, 0.0019, 0.0020, 0.0021, 0.0023, 0.0025, 0.0027, 0.0029, 0.0031,
                   0.0033, 0.0035, 0.0036, 0.0038, 0.0040, 0.0042, 0.0042]

year_ticks = list(range(2001, 2015))
slip_ticks = [2, 1, 0.5, 0.2, 0.1, 0.05, 0.02, 0.01, 0.005, 0.002, 0.001, 0.0005]
slip_tick_labels = ['2', '1', '0.5', '0.2', '0.1', '0.05', '0.02', '0.01', '0.005', '0.002', '0.001', '0.0005']

BLUE = '#1f2a8c'
RED = '#ff1a14'

fig = plt.figure(figsize=(7.98, 10.11), dpi=100)
ax = fig.add_axes([0.1754, 0.0950, 0.8183, 0.8853])
ax.set_yscale('log')

# constant-rate reference lines
t = 2001 + np.concatenate(([0.0], np.geomspace(1e-4, 13, 400)))
for c in rate_offsets:
    ax.plot(t, c + slip_rate * (t - 2001), color='black', lw=1.1, ls=(0, (5.3, 2.7)), zorder=1)

for curve in blue_fits + red_fits:
    arr = np.array(curve)
    ax.plot(arr[:, 0], arr[:, 1], color='black', lw=0.8, zorder=2)

ax.step(step_long_years, step_long_slip, where='post', color='#777777', lw=0.8, zorder=2)
ax.step(step_short_years, step_short_slip, where='post', color='#777777', lw=0.8, zorder=2)

for pts, col in [(blue_pre, BLUE), (blue_post, BLUE), (red_pre, RED), (red_post, RED)]:
    arr = np.array(pts)
    ax.plot(arr[:, 0], arr[:, 1], 's', ms=6.8, mfc=col, mec='#666666', mew=0.5, ls='none', zorder=3)

ax.axvline(quake_year, color='#ee2a24', lw=1.2, zorder=4)

ax.set_xlim(2001, 2014)
ax.set_ylim(0.0005, 2)

ax.set_xticks(year_ticks, [str(y) if y % 2 else '' for y in year_ticks])
ax.set_yticks(slip_ticks, slip_tick_labels)
ax.yaxis.set_minor_locator(LogLocator(base=10, subs=np.arange(2, 10)))
ax.yaxis.set_minor_formatter(plt.NullFormatter())

ax.tick_params(which='both', direction='out', top=True, right=True, width=1.0)
ax.tick_params(which='major', length=6)
ax.tick_params(which='minor', length=4)
ax.tick_params(axis='x', labelsize=17, labelfontfamily='Liberation Serif', pad=4)
ax.tick_params(axis='y', labelsize=15.5, labelfontfamily='DejaVu Serif', pad=3)
for s in ax.spines.values():
    s.set_linewidth(1.5)

ax.set_xlabel('Calendar Years', fontsize=31, family='Liberation Serif')
ax.xaxis.set_label_coords(0.464, -0.052)
ax.set_ylabel('Cumulative Slip (m)', fontsize=29, family='Liberation Serif')
ax.yaxis.set_label_coords(-0.128, 0.505)

ax.text(2002.93, 0.76, '0.023 m/year', fontsize=22, family='Liberation Serif',
        rotation=4, ha='center', va='center')

handles = [Patch(facecolor=BLUE, edgecolor='#555555', lw=0.6, label='Elastic Rebound Theory'),
           Patch(facecolor=RED, edgecolor='#555555', lw=0.6, label='Brune')]
ax.legend(handles=handles, loc='lower left', bbox_to_anchor=(0.386, 0.038), frameon=False,
          prop={'family': 'Liberation Serif', 'size': 21.6}, handlelength=2.5, handleheight=1.55,
          handletextpad=0.5, labelspacing=0.55, borderpad=0, borderaxespad=0)

fig.savefig('out.png', dpi=100)
